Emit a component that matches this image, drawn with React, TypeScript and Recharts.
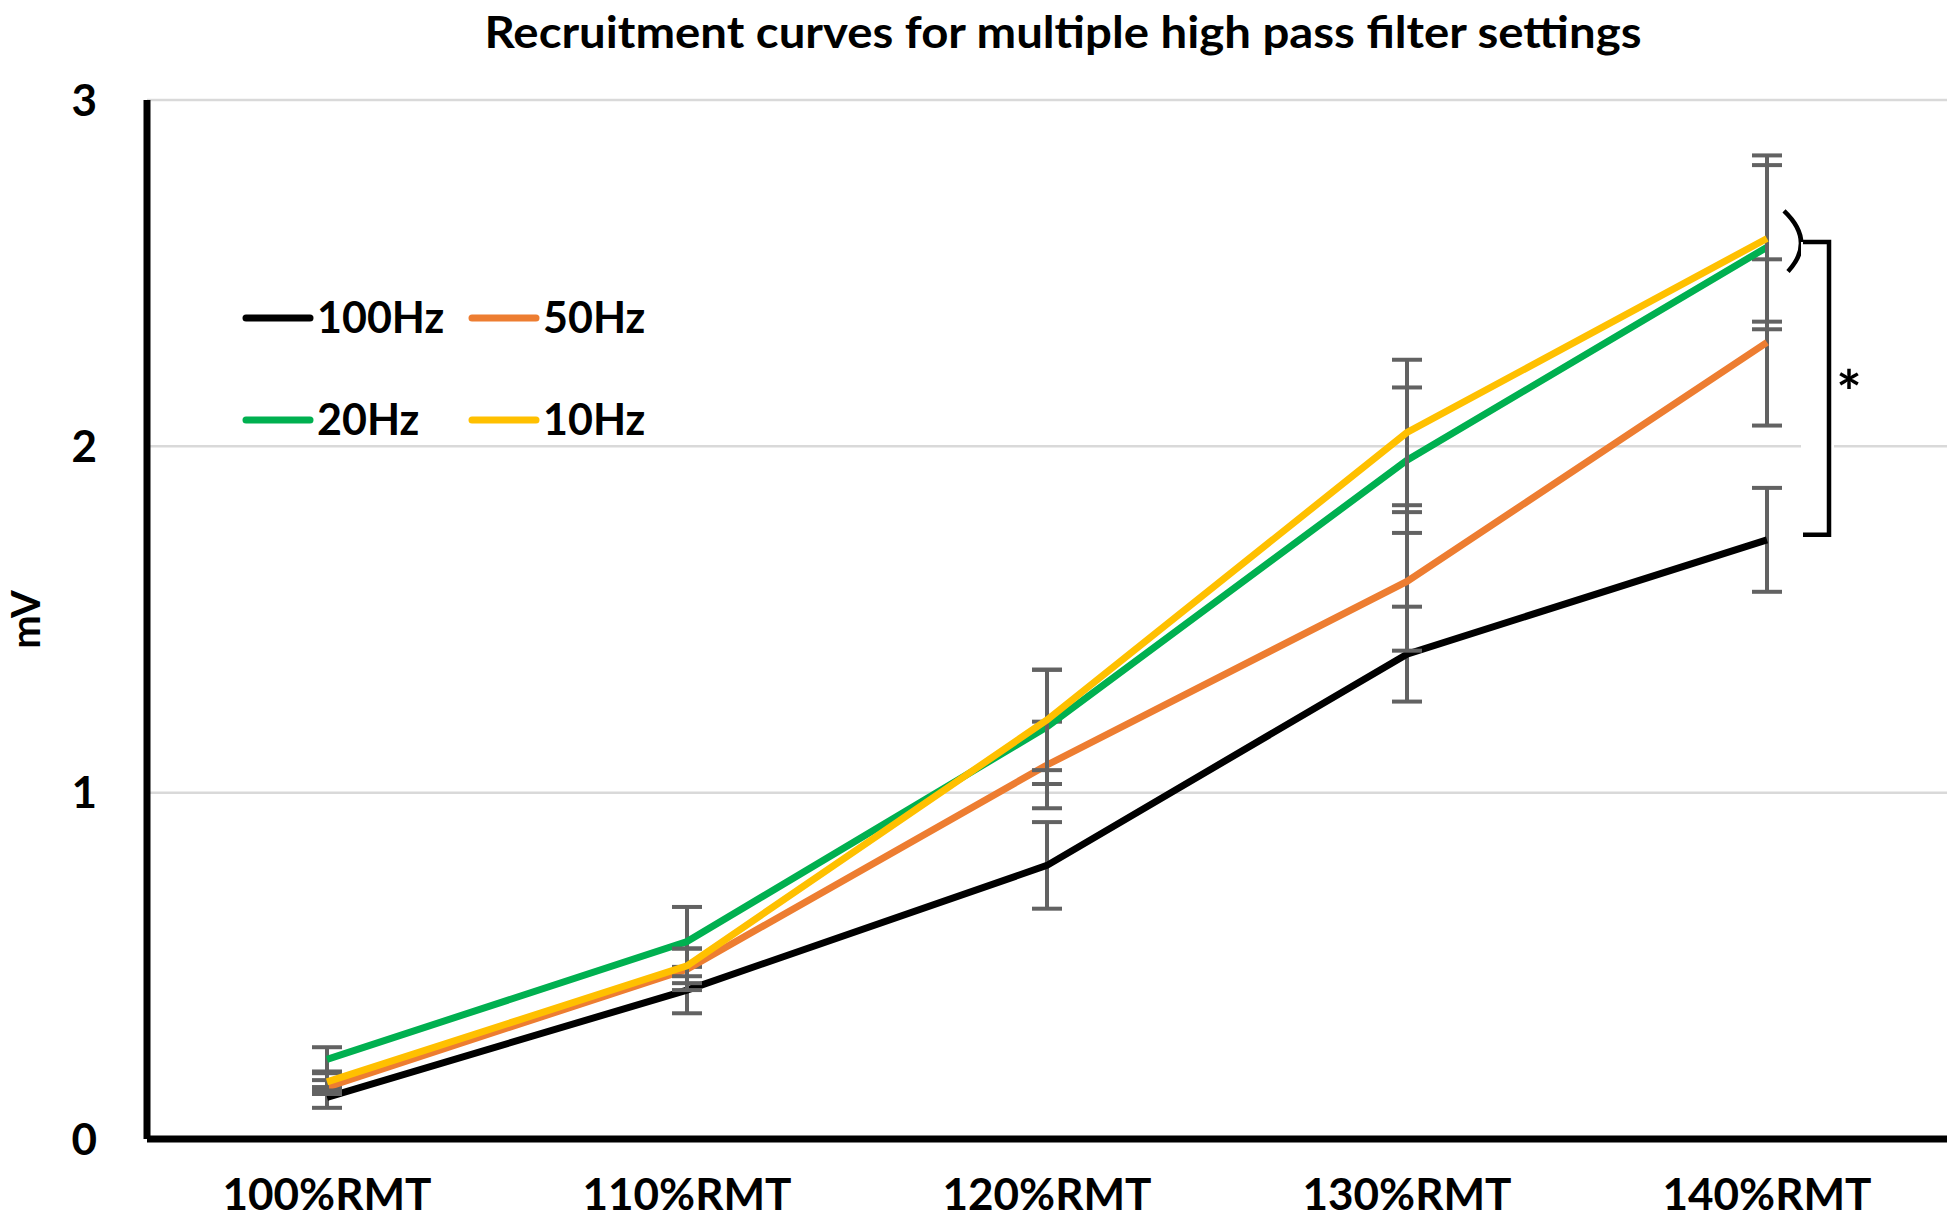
import { LineChart, Line, XAxis, YAxis, CartesianGrid, ErrorBar, Legend, ReferenceLine } from 'recharts'

const CATEGORIES = ['100%RMT', '110%RMT', '120%RMT', '130%RMT', '140%RMT']
const SERIES = ['100Hz', '50Hz', '20Hz', '10Hz']

const HZ100 = [0.12, 0.43, 0.79, 1.40, 1.73]
const HZ50 = [0.15, 0.49, 1.08, 1.61, 2.30]
const HZ20 = [0.23, 0.57, 1.19, 1.96, 2.575]
const HZ10 = [0.165, 0.50, 1.21, 2.04, 2.60]

const ERR100 = [0.03, 0.067, 0.125, 0.137, 0.15]
const ERR50 = [0.02, 0.06, 0.125, 0.20, 0.24]
const ERR20 = [0.035, 0.10, 0.165, 0.21, 0.237]
const ERR10 = [0.025, 0.05, 0.145, 0.21, 0.24]

const Y_TICKS = [0, 1, 2, 3]

// significance marks at 140%RMT: arc round 20/10Hz, bracket down to 100Hz
const ARC_RANGE = [2.68, 2.505]
const BRACKET_RANGE = [2.59, 1.745]

const FONT = 'Lato, "Open Sans", sans-serif'

const data = CATEGORIES.map((cat, i) => ({
    cat,
    hz100: HZ100[i], e100: ERR100[i],
    hz50: HZ50[i], e50: ERR50[i],
    hz20: HZ20[i], e20: ERR20[i],
    hz10: HZ10[i], e10: ERR10[i],
}))

function LegendGrid(props: any) {
    const items = [...(props.payload ?? [])].sort(
        (a: any, b: any) => SERIES.indexOf(a.value) - SERIES.indexOf(b.value))
    return (
        <svg width={440} height={170}>
            {items.map((it: any, i: number) => {
                const x0 = 16 + (i % 2) * 226
                const y0 = 38 + Math.floor(i / 2) * 102
                return (
                    <g key={it.value}>
                        <line x1={x0} x2={x0 + 64} y1={y0} y2={y0} stroke={it.color} strokeWidth={7} strokeLinecap="round" />
                        <text x={x0 + 71} y={y0} dy="0.36em" fontSize={43} fontWeight={700} fontFamily={FONT} fill="#000">
                            {it.value}
                        </text>
                    </g>
                )
            })}
        </svg>
    )
}

const arcShape = (p: any) => {
    const x = p.x1
    const top = Math.min(p.y1, p.y2)
    const bot = Math.max(p.y1, p.y2)
    return (
        <path d={`M${x + 17},${top} Q${x + 49},${(top + bot) / 2} ${x + 21},${bot}`}
            fill="none" stroke="#000" strokeWidth={4.5} />
    )
}

const bracketShape = (p: any) => {
    const x = p.x1
    const top = Math.min(p.y1, p.y2)
    const bot = Math.max(p.y1, p.y2)
    const xa = x + 36
    const xb = x + 62
    return (
        <g>
            <rect x={xa - 2} y={top} width={33} height={bot - top} fill="#fff" />
            <path d={`M${xa},${top} H${xb} V${bot} H${xa}`} fill="none" stroke="#000" strokeWidth={4.5} />
            <text x={xb + 20} y={(top + bot) / 2 + 26} textAnchor="middle" fontSize={60}
                fontWeight={700} fontFamily={FONT} fill="#000">*</text>
        </g>
    )
}

const tickStyle = { fill: '#000', fontSize: 44, fontWeight: 700, fontFamily: FONT }

export default function App() {
    return (
        <div style={{ position: 'absolute', left: 0, top: 0, width: 1950, height: 1224, background: '#fff' }}>
            <svg width={1950} height={70} style={{ position: 'absolute', left: 0, top: 0 }}>
                <text x={1063} y={48} textAnchor="middle" fontSize={43} fontWeight={700} fontFamily={FONT}
                    fill="#000" textLength={1157} lengthAdjust="spacingAndGlyphs">
                    Recruitment curves for multiple high pass filter settings
                </text>
            </svg>
            <LineChart width={1950} height={1224} data={data} margin={{ top: 100, right: 3, bottom: 0, left: 0 }}>
                <CartesianGrid vertical={false} stroke="#d9d9d9" strokeWidth={2.5} />
                <XAxis dataKey="cat" height={85} tickLine={false} tickSize={0} tickMargin={40}
                    padding={{ left: 180, right: 180 }}
                    axisLine={{ stroke: '#000', strokeWidth: 7 }} tick={tickStyle} interval={0} />
                <YAxis width={147} domain={[0, 3]} ticks={Y_TICKS} tickLine={false} tickSize={0} tickMargin={50}
                    axisLine={{ stroke: '#000', strokeWidth: 7 }} tick={tickStyle}
                    label={{ value: 'mV', angle: -90, position: 'center', dx: -48, fill: '#000', fontSize: 40, fontWeight: 700, fontFamily: FONT }} />
                <Legend layout="vertical" align="center" verticalAlign="middle" content={LegendGrid}
                    itemSorter={(item: any) => SERIES.indexOf(item.value)}
                    wrapperStyle={{ left: 230, top: 280, width: 440, height: 170 }} />
                <Line name="100Hz" dataKey="hz100" stroke="#000000" strokeWidth={7} dot={false} isAnimationActive={false}>
                    <ErrorBar dataKey="e100" width={15} strokeWidth={4} stroke="#626262" direction="y" isAnimationActive={false} />
                </Line>
                <Line name="50Hz" dataKey="hz50" stroke="#ED7D31" strokeWidth={7} dot={false} isAnimationActive={false}>
                    <ErrorBar dataKey="e50" width={15} strokeWidth={4} stroke="#626262" direction="y" isAnimationActive={false} />
                </Line>
                <Line name="20Hz" dataKey="hz20" stroke="#00B050" strokeWidth={7} dot={false} isAnimationActive={false}>
                    <ErrorBar dataKey="e20" width={15} strokeWidth={4} stroke="#626262" direction="y" isAnimationActive={false} />
                </Line>
                <Line name="10Hz" dataKey="hz10" stroke="#FFC000" strokeWidth={7} dot={false} isAnimationActive={false}>
                    <ErrorBar dataKey="e10" width={15} strokeWidth={4} stroke="#626262" direction="y" isAnimationActive={false} />
                </Line>
                <ReferenceLine ifOverflow="visible" shape={arcShape}
                    segment={[{ x: CATEGORIES[4], y: ARC_RANGE[0] }, { x: CATEGORIES[4], y: ARC_RANGE[1] }]} />
                <ReferenceLine ifOverflow="visible" shape={bracketShape}
                    segment={[{ x: CATEGORIES[4], y: BRACKET_RANGE[0] }, { x: CATEGORIES[4], y: BRACKET_RANGE[1] }]} />
            </LineChart>
        </div>
    )
}
